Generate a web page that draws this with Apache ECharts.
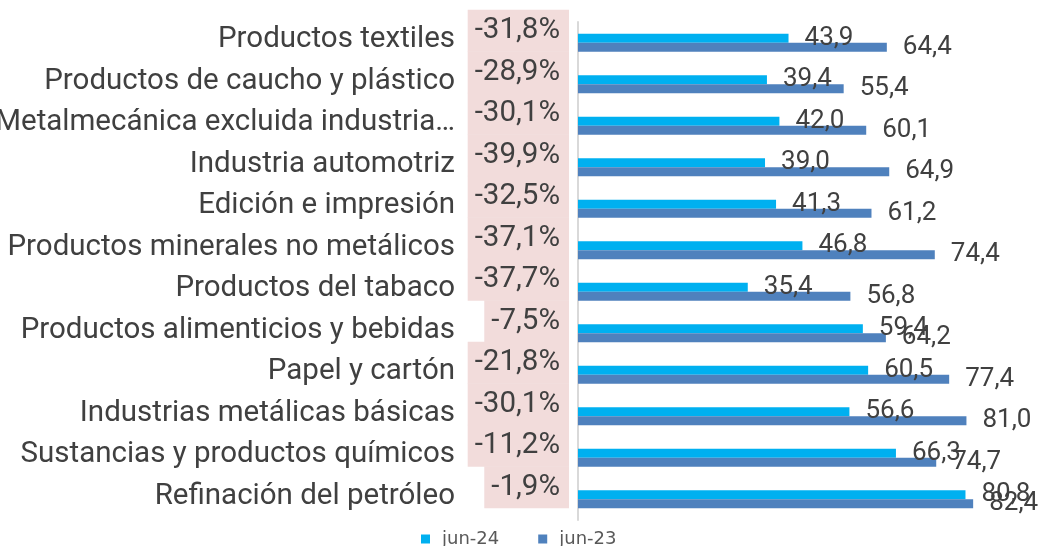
<!DOCTYPE html>
<html>
<head>
<meta charset="utf-8">
<script src="https://cdn.jsdelivr.net/npm/echarts@6/dist/echarts.min.js"></script>
<style>
  html, body { margin: 0; padding: 0; background: #fff; }
  #chart { width: 1042px; height: 546px; }
</style>
</head>
<body>
<div id="chart"></div>
<script>
  // sectores, de arriba hacia abajo
  var categorias = [
    'Productos textiles',
    'Productos de caucho y plástico',
    'Metalmecánica excluida industria automotriz',
    'Industria automotriz',
    'Edición e impresión',
    'Productos minerales no metálicos',
    'Productos del tabaco',
    'Productos alimenticios y bebidas',
    'Papel y cartón',
    'Industrias metálicas básicas',
    'Sustancias y productos químicos',
    'Refinación del petróleo'
  ];
  var jun24 = [43.9, 39.4, 42.0, 39.0, 41.3, 46.8, 35.4, 59.4, 60.5, 56.6, 66.3, 80.8];
  var jun23 = [64.4, 55.4, 60.1, 64.9, 61.2, 74.4, 56.8, 64.2, 77.4, 81.0, 74.7, 82.4];
  var variacion = ['-31,8%', '-28,9%', '-30,1%', '-39,9%', '-32,5%', '-37,1%', '-37,7%', '-7,5%', '-21,8%', '-30,1%', '-11,2%', '-1,9%'];

  var txt = '#404040';
  var fam = 'Roboto, "Noto Sans", sans-serif';

  function coma(p) {
    return p.value.toFixed(1).replace('.', ',');
  }

  var myChart = echarts.init(document.getElementById('chart'));
  var option = {
    animation: false,
    textStyle: { fontFamily: fam },
    grid: [
      { left: 578, top: 22, width: 431.6, height: 498, outerBoundsMode: 'none' },
      { left: 578, top: 10, width: 431.6, height: 498, outerBoundsMode: 'none' }
    ],
    legend: {
      data: ['jun-24', 'jun-23'],
      top: 525,
      left: 416,
      icon: 'rect',
      itemWidth: 9,
      itemHeight: 9,
      itemGap: 39,
      textStyle: { fontSize: 18, color: '#595959', fontFamily: '"DejaVu Sans", sans-serif', padding: [0, 0, 0, 7] }
    },
    xAxis: [
      { type: 'value', min: 0, max: 90, show: false, gridIndex: 0 },
      { type: 'value', min: 0, max: 90, show: false, gridIndex: 1 }
    ],
    yAxis: [
      {
        type: 'category',
        gridIndex: 0,
        inverse: true,
        data: categorias,
        axisLine: { show: true, lineStyle: { color: '#D9D9D9', width: 2 } },
        axisTick: { show: false },
        axisLabel: {
          interval: 0,
          margin: 123,
          fontSize: 29.5,
          color: txt,
          verticalAlign: 'bottom',
          lineHeight: 6,
          width: 462,
          overflow: 'truncate',
          ellipsis: '…'
        }
      },
      {
        type: 'category',
        gridIndex: 1,
        inverse: true,
        data: categorias,
        axisLine: { show: false },
        axisTick: { show: false },
        axisLabel: {
          interval: 0,
          showMinLabel: true,
          showMaxLabel: true,
          hideOverlap: false,
          margin: 9,
          fontSize: 29.5,
          lineHeight: 28,
          color: txt,
          backgroundColor: '#F2DCDB',
          padding: [7, 9, 7, 7],
          formatter: function (v, i) { return variacion[i]; }
        }
      }
    ],
    series: [
      {
        name: 'jun-24',
        type: 'bar',
        data: jun24,
        barWidth: 9,
        barGap: '0%',
        itemStyle: { color: '#00B0F0' },
        label: { show: true, position: 'right', distance: 16, fontSize: 26, color: txt, formatter: coma }
      },
      {
        name: 'jun-23',
        type: 'bar',
        data: jun23,
        barWidth: 9,
        barGap: '0%',
        itemStyle: { color: '#4F81BD' },
        label: { show: true, position: 'right', distance: 16, fontSize: 26, color: txt, formatter: coma }
      }
    ]
  };
  myChart.setOption(option);
</script>
</body>
</html>
